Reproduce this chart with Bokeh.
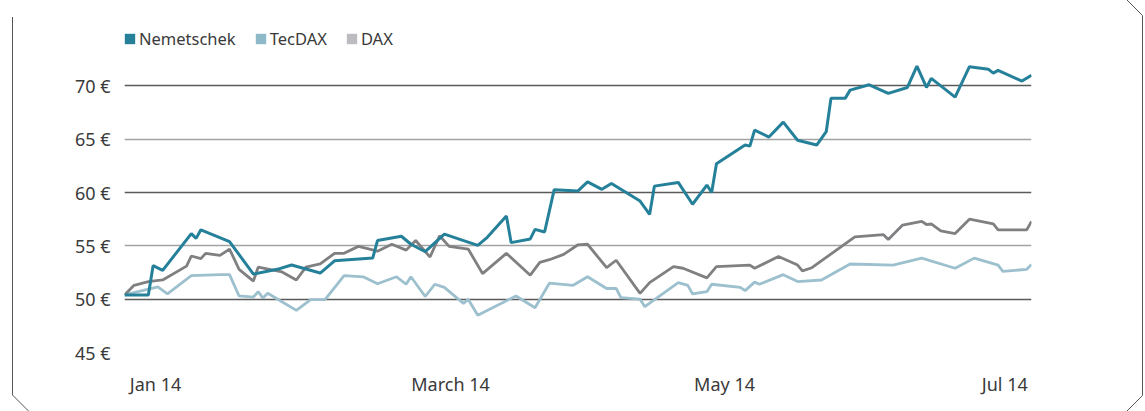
from bokeh.plotting import figure
from bokeh.models import Range1d, FixedTicker, Grid, Legend, LegendItem
from bokeh.embed import file_html
from bokeh.resources import INLINE

# ---- data (x = day of 2014, Jan 1 = 0) ----
nem_day = [1, 6, 7, 9, 15, 16, 17, 23, 28, 33, 36, 42, 45, 53, 54, 59, 61, 64, 68, 75,
           77, 81, 82, 86, 87, 89, 91, 96, 98, 101, 103, 109, 111, 112, 117, 120, 123, 124, 125, 131,
           132, 133, 136, 139, 142, 146, 148, 149, 152, 153, 157, 161, 165, 167, 169, 170, 175, 178, 182, 183,
           184, 189, 191]
nem_val = [50.4, 50.4, 53.15, 52.7, 56.15, 55.7, 56.5, 55.4, 52.35, 52.8, 53.2, 52.45, 53.6, 53.85, 55.5, 55.9, 55.15, 54.45, 56.1, 55.05,
           55.8, 57.8, 55.3, 55.65, 56.55, 56.3, 60.25, 60.15, 61.0, 60.3, 60.85, 59.2, 57.95, 60.6, 60.95, 58.9, 60.7, 60.0, 62.7, 64.45,
           64.35, 65.85, 65.2, 66.6, 64.9, 64.45, 65.7, 68.85, 68.85, 69.6, 70.1, 69.3, 69.85, 71.85, 69.85, 70.7, 68.95, 71.8, 71.55, 71.2,
           71.45, 70.45, 71.0]

tec_day = [1, 8, 10, 15, 21, 23, 25, 28, 29, 30, 31, 37, 40, 43, 47, 51, 54, 58, 60, 61,
           64, 66, 68, 72, 73, 75, 83, 87, 90, 95, 98, 102, 104, 105, 109, 110, 117, 119, 120, 123,
           124, 130, 131, 133, 134, 139, 142, 147, 153, 162, 168, 175, 179, 184, 185, 190, 191]
tec_val = [50.4, 51.15, 50.5, 52.2, 52.3, 52.3, 50.3, 50.2, 50.7, 50.1, 50.55, 48.95, 49.95, 49.95, 52.2, 52.1, 51.45, 52.1, 51.4, 52.1,
           50.25, 51.4, 51.1, 49.6, 50.0, 48.5, 50.3, 49.2, 51.5, 51.3, 52.1, 51.0, 51.0, 50.15, 50.0, 49.3, 51.55, 51.3, 50.5, 50.7,
           51.4, 51.1, 50.8, 51.6, 51.4, 52.3, 51.65, 51.8, 53.3, 53.2, 53.85, 52.9, 53.85, 53.2, 52.6, 52.8, 53.25]

dax_day = [1, 3, 6, 9, 14, 15, 17, 18, 21, 23, 25, 28, 29, 34, 37, 39, 42, 45, 47, 50,
           54, 57, 60, 62, 65, 67, 69, 73, 76, 81, 86, 88, 90, 93, 96, 98, 102, 104, 109, 111,
           116, 118, 123, 125, 132, 133, 138, 142, 143, 145, 154, 160, 161, 164, 168, 169, 170, 172, 175, 178,
           183, 184, 190, 191]
dax_val = [50.4, 51.3, 51.65, 51.8, 53.1, 54.05, 53.8, 54.3, 54.1, 54.7, 52.8, 51.7, 53.0, 52.55, 51.8, 53.0, 53.3, 54.3, 54.3, 54.95,
           54.5, 55.15, 54.6, 55.5, 53.95, 55.95, 54.95, 54.7, 52.4, 54.3, 52.25, 53.45, 53.7, 54.2, 55.1, 55.15, 52.95, 53.65, 50.55, 51.55,
           53.05, 52.9, 52.0, 53.05, 53.2, 52.9, 54.0, 53.2, 52.65, 52.95, 55.85, 56.05, 55.6, 56.95, 57.3, 57.0, 57.05, 56.4, 56.15, 57.5,
           57.05, 56.5, 56.5, 57.3]

series_names = ["Nemetschek", "TecDAX", "DAX"]
month_labels = ["Jan 14", "March 14", "May 14", "Jul 14"]
month_tick_day = [7.5, 69.3, 126.7, 185.4]
y_ticks = [45, 50, 55, 60, 65, 70]

# ---- styles ----
FONT = "Noto Sans"
TXT = "#3a3a3a"
C_NEM = "#25809a"
C_TEC = "#9cc0cd"
C_DAX = "#808083"
L_NEM = "#26809a"
L_TEC = "#8db9c9"
L_DAX = "#bcbcc0"

BORDER_SVG = ("data:image/svg+xml;utf8,"
              "<svg xmlns='http://www.w3.org/2000/svg' width='1145' height='411'>"
              "<path d='M12.5 17 V395 L28.5 411 M1127 0 L1142.5 15.5 V395.5 L1127 411' "
              "fill='none' stroke='%23555555' stroke-width='1'/></svg>")

# frame spans from y=20 to y=352 so the legend can sit inside it, above the 70 gridline
p = figure(width=1145, height=411, output_backend="svg", toolbar_location=None,
           x_range=Range1d(1, 191), y_range=Range1d(45, 76.13),
           min_border_left=124, min_border_right=114, min_border_top=20, min_border_bottom=59)
p.outline_line_color = None
p.background_fill_alpha = 0
p.border_fill_color = None
p.styles = {"background-image": f'url("{BORDER_SVG}")', "background-repeat": "no-repeat"}

# axes
p.xaxis.ticker = FixedTicker(ticks=month_tick_day)
p.xaxis.major_label_overrides = {d: l for d, l in zip(month_tick_day, month_labels)}
p.yaxis.ticker = FixedTicker(ticks=y_ticks)
p.yaxis.major_label_overrides = {v: f"{v} €" for v in y_ticks}
for ax in (p.xaxis[0], p.yaxis[0]):
    ax.axis_line_color = None
    ax.major_tick_line_color = None
    ax.minor_tick_line_color = None
    ax.major_label_text_font = FONT
    ax.major_label_text_font_size = "18px"
    ax.major_label_text_color = TXT
p.xaxis.major_label_standoff = 13
p.yaxis.major_label_standoff = 8

# grids
p.xgrid.visible = False
p.ygrid.ticker = FixedTicker(ticks=[50, 60, 70])
p.ygrid.grid_line_color = "#5a5a5a"
p.ygrid.grid_line_width = 1.5
p.add_layout(Grid(dimension=1, ticker=FixedTicker(ticks=[45, 55, 65]),
                  grid_line_color="#a3a3a3", grid_line_width=1.5))

# lines
p.line(tec_day, tec_val, line_color=C_TEC, line_width=2.8)
p.line(dax_day, dax_val, line_color=C_DAX, line_width=2.8)
p.line(nem_day, nem_val, line_color=C_NEM, line_width=3.0)

# legend swatches: zero-area quads at each series' first point (invisible in the plot)
swatches = []
for col, xs, ys in ((L_NEM, nem_day, nem_val), (L_TEC, tec_day, tec_val), (L_DAX, dax_day, dax_val)):
    swatches.append(p.quad(left=xs[:1], right=xs[:1], top=ys[:1], bottom=ys[:1],
                           fill_color=col, line_color=None, level="underlay"))
legend = Legend(items=[LegendItem(label=n, renderers=[r]) for n, r in zip(series_names, swatches)],
                orientation="horizontal", location=(-1, 302), padding=0, margin=0, spacing=18,
                glyph_width=13, glyph_height=13, label_standoff=3,
                label_text_font=FONT, label_text_font_size="16.5px", label_text_color=TXT,
                border_line_color=None, background_fill_alpha=0)
p.add_layout(legend, "center")

open("out.html", "w").write(file_html(p, INLINE))
